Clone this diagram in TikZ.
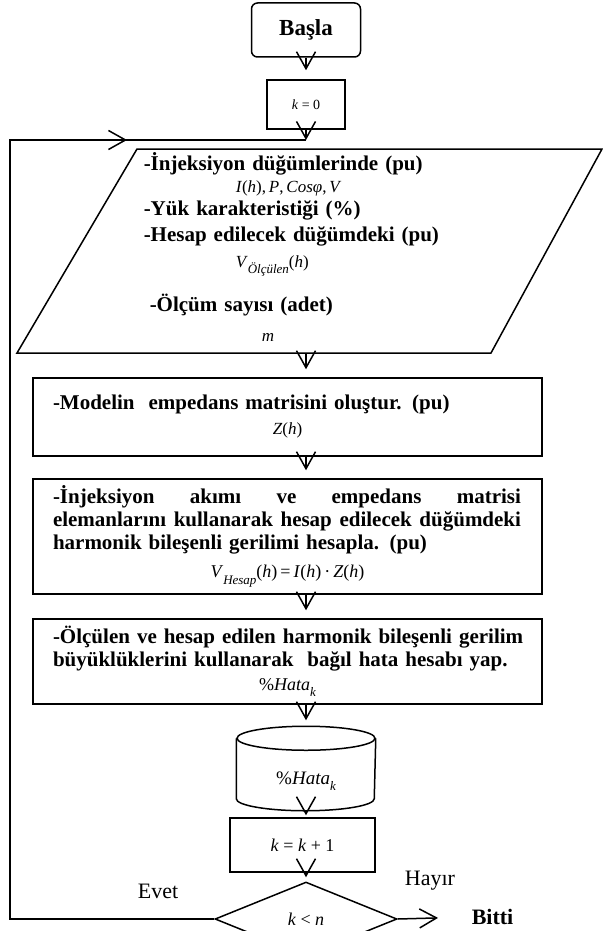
\documentclass[tikz,border=0pt]{standalone}
\usepackage{fontspec}
\setmainfont{Liberation Serif}
\usetikzlibrary{shapes.geometric,arrows.meta,positioning,calc}

\newcommand{\vi}[1]{\textit{#1}}
\newcommand{\lowidx}[1]{\raisebox{-0.35em}{\fontsize{13}{13}\selectfont\itshape #1}}
\newcommand{\eqfont}{\fontsize{17}{22}\selectfont\mdseries}

\begin{document}
\begin{tikzpicture}[x=1pt,y=-1pt,line width=1.5pt,
    txt/.style={font=\fontsize{21}{23}\selectfont\bfseries},
    procbox/.style={draw,txt,minimum width=509pt,inner xsep=20pt,inner ysep=4pt,text width=469pt,align=left},
    smallbox/.style={draw,inner sep=2pt},
    flow/.style={-{Straight Barb[length=17pt,width=19pt]},shorten >=8pt},
    tip/.style={-{Straight Barb[length=17pt,width=19pt]}}]

\useasboundingbox (0,0) rectangle (602,931);

% start
\node[draw,rounded corners=6pt,minimum width=109pt,minimum height=54pt,font=\fontsize{23}{25}\selectfont\bfseries] (basla) at (306,30) {Başla};
\node[smallbox,minimum width=78pt,minimum height=49pt,font=\fontsize{14}{16}\selectfont] (k0) at (306,104.5) {\vi{k} = 0};
\coordinate (join) at (306,140);
\coordinate (ret) at (10,140);
\coordinate (half) at (127,140);

% input data
\coordinate (p1) at (137,149);
\coordinate (p2) at (602,149);
\coordinate (p3) at (491,353);
\coordinate (p4) at (17,353);
\coordinate (pbot) at (306,353);
\draw (p1) -- (p2) -- (p3) -- (p4) -- cycle;
\node[txt,anchor=north west,text width=420pt,align=left,inner sep=0pt] (input) at (143,152) {%
    -İnjeksiyon düğümlerinde (pu)\par
    {\eqfont\hspace*{92pt}\vi{I}(\vi{h}),\,\vi{P},\,\vi{Cosφ},\,\vi{V}\par}
    -Yük karakteristiği (\%)\par
    \vspace{3pt}-Hesap edilecek düğümdeki (pu)\par
    {\eqfont\vspace{4pt}\hspace*{92pt}\vi{V}\lowidx{Ölçülen}(\vi{h})\par}
    \vspace{17pt}\hspace*{6pt}-Ölçüm sayısı (adet)\par
    {\eqfont\vspace{8pt}\hspace*{118pt}\vi{m}\par}};

% processing steps
\node[procbox,minimum height=78pt] (model) at (287.5,417) {%
    -Modelin\ \ empedans matrisini oluştur. (pu)\par\vspace{3pt}
    {\centering\eqfont \vi{Z}(\vi{h})\par}};
\node[procbox,minimum height=115pt] (compute) at (287.5,536.5) {%
    \makebox[468pt]{-İnjeksiyon\hfill akımı\hfill ve\hfill empedans\hfill matrisi}\par
    \makebox[468pt]{elemanlarını\hfill kullanarak\hfill hesap\hfill edilecek\hfill düğümdeki}\par
    harmonik bileşenli gerilimi hesapla. (pu)\par\vspace{6pt}
    {\centering\fontsize{18}{22}\selectfont\mdseries \vi{V}\lowidx{Hesap}(\vi{h})\,=\,\vi{I}(\vi{h})\,·\,\vi{Z}(\vi{h})\par}};
\node[procbox,minimum height=85pt] (error) at (287.5,661.5) {%
    \mbox{-Ölçülen ve hesap edilen harmonik bileşenli gerilim}\par
    büyüklüklerini kullanarak\ \ bağıl hata hesabı yap.\par\vspace{2pt}
    {\centering\fontsize{18}{22}\selectfont\mdseries \%\vi{Hata}\lowidx{k}\par}};

% stored error
\node[minimum width=138pt,minimum height=83pt,inner sep=0pt] (store) at (306,768.5) {};
\draw (store.north) ++(0,12) ellipse [x radius=69pt,y radius=12pt];
\draw ($(store.north west)+(0,12)$) -- ($(store.south west)+(0,-12)$)
    arc[start angle=180,end angle=360,x radius=69pt,y radius=12pt] -- ($(store.north east)+(0,12)$);
\node[font=\fontsize{19}{21}\selectfont] (hata) at (306,781) {\%\vi{Hata}\lowidx{k}};

% counter and test
\node[smallbox,minimum width=145pt,minimum height=54pt,font=\fontsize{18}{20}\selectfont] (kinc) at (302.5,845) {\vi{k} = \vi{k} + 1};
\node[draw,diamond,aspect=2.46,minimum width=182pt,minimum height=74pt,inner sep=0pt,font=\fontsize{18}{20}\selectfont] (cond) at (306,919) {\raisebox{-3pt}{\vi{k} < \vi{n}}};
\node[font=\fontsize{22}{24}\selectfont] (yes) at (158,891) {Evet};
\node[font=\fontsize{22}{24}\selectfont] (no) at (430,881) {Hayır};
\node[font=\fontsize{22}{24}\selectfont\bfseries,inner sep=0pt,anchor=west] (bitti) at (471,917) {Bitti};

% connectors
\draw[flow,shorten >=9pt] (basla) -- (k0);
\draw[tip] (k0) -- (join);
\draw (cond.west) -| (ret) -- (join);
\draw[tip] (ret) -- (half);
\draw[flow] (pbot) -- (model.north -| pbot);
\draw[flow] (model.south -| pbot) -- (compute.north -| pbot);
\draw[flow] (compute.south -| pbot) -- (error.north -| pbot);
\draw[flow,shorten >=6pt] (error.south -| pbot) -- (store.north);
\draw[flow,shorten >=2pt] (store.south) -- (kinc.north -| store);
\draw[flow,shorten >=4pt] (kinc.south -| store) -- (cond.north);
\draw[flow,shorten >=33pt] (cond.east) -- (bitti.west);
\end{tikzpicture}
\end{document}
